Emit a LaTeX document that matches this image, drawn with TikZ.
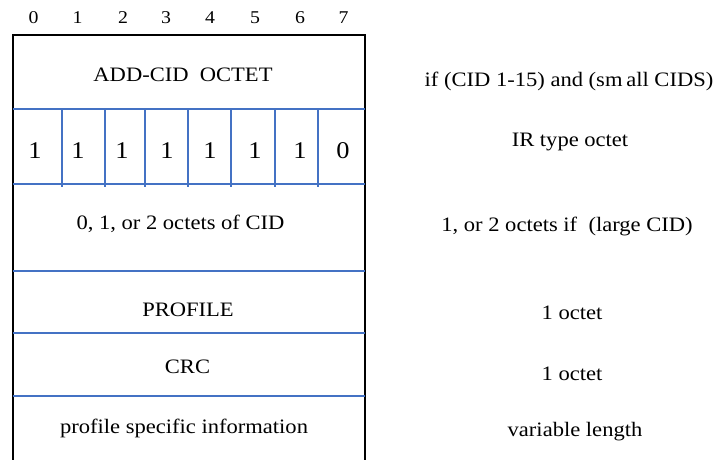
\documentclass[tikz,border=0pt]{standalone}
\usepackage{fontspec}
\setmainfont{Liberation Serif}
\definecolor{rowblue}{RGB}{68,114,196}
% slightly widened setting of the text
\newcommand{\wtext}[1]{\scalebox{1.1}[1]{#1}}
\begin{document}
\begin{tikzpicture}[x=1pt,y=-1pt,
  frame/.style={line width=2pt,black},
  divider/.style={line width=2pt,rowblue},
  label/.style={anchor=base,inner sep=0pt,font=\fontsize{20.5}{24}\selectfont},
  bitval/.style={anchor=base,inner sep=0pt,font=\fontsize{24}{28}\selectfont},
  bitnum/.style={anchor=base,inner sep=0pt,font=\fontsize{18}{22}\selectfont}]
\useasboundingbox (0,0) rectangle (714,459);

% outer frame (open at the bottom)
\coordinate (bl) at (12.5,462);
\coordinate (tl) at (12.5,34.5);
\coordinate (tr) at (364.5,34.5);
\coordinate (br) at (364.5,462);
\draw[frame] (bl) -- (tl) -- (tr) -- (br);

% horizontal field separators
\foreach \y/\n in {108.5/a,183.5/b,270.5/c,332.5/d,395.5/e}{
  \coordinate (\n L) at (12.5,\y);
  \coordinate (\n R) at (364.5,\y);
  \draw[divider] (\n L) -- (\n R);
}

% bit cell walls of the type octet
\foreach \x [count=\i] in {62,105,145,188,231,275,318}{
  \coordinate (vt\i) at (\x,108.5);
  \coordinate (vb\i) at (\x,186.5);
  \draw[divider] (vt\i) -- (vb\i);
}

% bit numbers
\foreach \x [count=\i from 0] in {33.5,77.5,123,166,210,255,300,343.5}{
  \node[bitnum] (n\i) at (\x,23.7) {\wtext{\i}};
}

% bit values 1111110
\foreach \x/\v [count=\i] in {35/1,78/1,122/1,167/1,210/1,255/1,300/1,343/0}{
  \node[bitval] (b\i) at (\x,158.3) {\wtext{\v}};
}

% fields
\node[label] (addcid) at (183,81.7) {\wtext{ADD-CID\ \ OCTET}};
\node[label] (cid) at (180.5,229.2) {\wtext{0, 1, or 2 octets of CID}};
\node[label] (profile) at (188,316.7) {\wtext{PROFILE}};
\node[label] (crc) at (187.5,373.3) {\wtext{CRC}};
\node[label] (psi) at (184,433.5) {\wtext{profile specific information}};

% notes
\node[label] (note1) at (569,86.5) {\wtext{if (CID 1-15) and (sm\,all CIDS)}};
\node[label] (note2) at (570,146.7) {\wtext{IR type octet}};
\node[label] (note3) at (567,231.5) {\wtext{1, or 2 octets if\ \ (large CID)}};
\node[label] (note4) at (572,319) {\wtext{1 octet}};
\node[label] (note5) at (572,380.5) {\wtext{1 octet}};
\node[label] (note6) at (575,436.5) {\wtext{variable length}};
\end{tikzpicture}
\end{document}
